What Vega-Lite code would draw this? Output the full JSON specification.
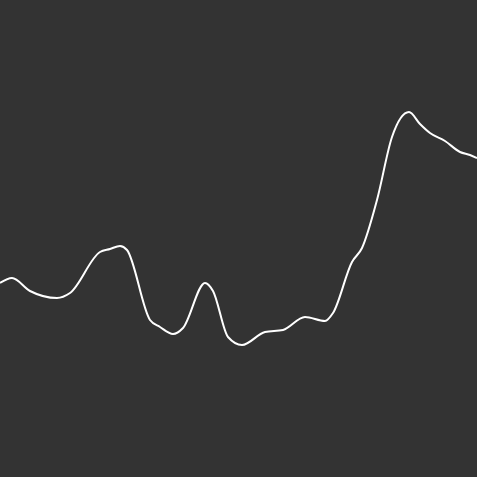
{
  "$schema": "https://vega.github.io/schema/vega-lite/v6.json",
  "width": 477,
  "height": 477,
  "autosize": "none",
  "padding": 0,
  "background": "#333333",
  "config": {"view": {"stroke": null}},
  "data": {
    "values": [
      {"x": 0, "y": 283}, {"x": 12, "y": 278}, {"x": 30, "y": 291},
      {"x": 57, "y": 298}, {"x": 70, "y": 293}, {"x": 100, "y": 252},
      {"x": 110, "y": 249}, {"x": 120, "y": 246}, {"x": 127, "y": 250},
      {"x": 150, "y": 320}, {"x": 160, "y": 327}, {"x": 173, "y": 334},
      {"x": 183, "y": 328}, {"x": 205, "y": 283}, {"x": 213, "y": 291},
      {"x": 228, "y": 337}, {"x": 242, "y": 345}, {"x": 265, "y": 332},
      {"x": 283, "y": 330}, {"x": 305, "y": 317}, {"x": 325, "y": 321},
      {"x": 333, "y": 313}, {"x": 352, "y": 262}, {"x": 362, "y": 248},
      {"x": 377, "y": 200}, {"x": 392, "y": 137}, {"x": 409, "y": 112},
      {"x": 420, "y": 124}, {"x": 430, "y": 133}, {"x": 445, "y": 141},
      {"x": 460, "y": 152}, {"x": 470, "y": 155}, {"x": 477, "y": 158}
    ]
  },
  "mark": {"type": "line", "color": "#ffffff", "strokeWidth": 2, "interpolate": "monotone"},
  "encoding": {
    "x": {"field": "x", "type": "quantitative", "axis": null, "scale": {"domain": [0, 477], "nice": false, "zero": false}},
    "y": {"field": "y", "type": "quantitative", "axis": null, "scale": {"domain": [0, 477], "reverse": true, "nice": false, "zero": false}}
  }
}
